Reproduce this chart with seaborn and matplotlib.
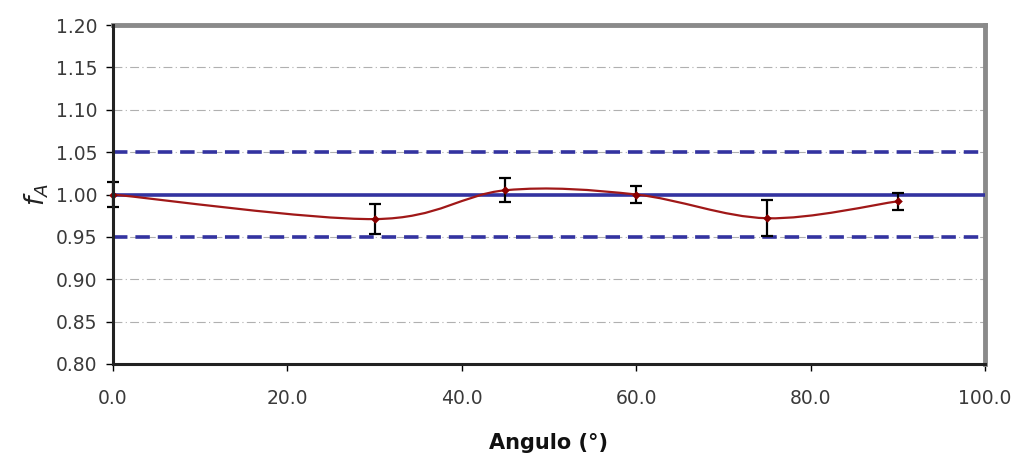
import numpy as np
import pandas as pd
import matplotlib
matplotlib.use("Agg")
import matplotlib.pyplot as plt
from matplotlib.path import Path
from matplotlib.patches import PathPatch
import seaborn as sns

# Measured factor vs. angle
angles = [0.0, 30.0, 45.0, 60.0, 75.0, 90.0]
f_a = [1.000, 0.971, 1.005, 1.000, 0.972, 0.992]
f_err = [0.015, 0.018, 0.014, 0.010, 0.021, 0.010]

# Reference level and tolerance band
ref_level = 1.00
tol_upper = 1.05
tol_lower = 0.95

x_ticks = [0, 20, 40, 60, 80, 100]
y_ticks = [0.80, 0.85, 0.90, 0.95, 1.00, 1.05, 1.10, 1.15, 1.20]

sns.set_style("white")
plt.rcParams["font.family"] = ["DejaVu Sans"]

fig = plt.figure(figsize=(10.14, 4.55), dpi=100)
ax = fig.add_axes([0.1114, 0.2, 0.86, 0.745])

ax.set_xlim(0, 100)
ax.set_ylim(0.80, 1.20)

# gridlines
for yv in y_ticks[1:-1]:
    ax.axhline(yv, color="#b0b0b0", lw=0.8, ls=(0, (8, 3, 1, 3)), zorder=1)

navy = "#3333a0"
ax.axhline(tol_upper, color=navy, lw=2.6, ls=(0, (4, 2.2)), zorder=2)
ax.axhline(tol_lower, color=navy, lw=2.6, ls=(0, (4, 2.2)), zorder=2)
ax.axhline(ref_level, color=navy, lw=2.6, zorder=3)

# smoothed curve through the points (Catmull-Rom as cubic Bezier segments)
df = pd.DataFrame({"angle": angles, "fa": f_a, "err": f_err})
pts = df[["angle", "fa"]].to_numpy()
verts = [tuple(pts[0])]
codes = [Path.MOVETO]
n = len(pts)
for i in range(n - 1):
    p0 = pts[i - 1] if i > 0 else pts[i]
    p1 = pts[i]
    p2 = pts[i + 1]
    p3 = pts[i + 2] if i + 2 < n else pts[i + 1]
    c1 = p1 + (p2 - p0) / 6.0
    c2 = p2 - (p3 - p1) / 6.0
    verts += [tuple(c1), tuple(c2), tuple(p2)]
    codes += [Path.CURVE4, Path.CURVE4, Path.CURVE4]
curve = PathPatch(Path(verts, codes), facecolor="none", edgecolor="#a01818",
                  lw=1.6, zorder=4, transform=ax.transData, clip_on=False)
ax.add_patch(curve)

ax.errorbar(df["angle"], df["fa"], yerr=df["err"], fmt="none", ecolor="black",
            elinewidth=1.6, capsize=4, capthick=1.6, zorder=5, clip_on=False)
sns.scatterplot(data=df, x="angle", y="fa", marker="D", s=16, color="#8b0000",
                edgecolor="#8b0000", ax=ax, zorder=6, clip_on=False, legend=False)

ax.set_xticks(x_ticks)
ax.set_xticklabels([f"{v:.1f}" for v in x_ticks])
ax.set_yticks(y_ticks)
ax.set_yticklabels([f"{v:.2f}" for v in y_ticks])
ax.tick_params(axis="both", direction="out", length=5, width=1, color="black",
               labelsize=13.5, labelcolor="#3a3a3a", bottom=True, left=True)
ax.tick_params(axis="x", pad=13)
ax.tick_params(axis="y", pad=6)

for side in ["left", "bottom"]:
    ax.spines[side].set_color("#222222")
    ax.spines[side].set_linewidth(2.2)
for side in ["top", "right"]:
    ax.spines[side].set_color("#8a8a8a")
    ax.spines[side].set_linewidth(3.5)
ax.spines["left"].set_zorder(7)

ax.set_xlabel("Angulo (°)", fontsize=15, fontweight="bold", labelpad=18,
              family=["DejaVu Sans"], color="#111111")
ax.set_ylabel("$f_A$", fontsize=19, labelpad=4, color="#222222")

fig.savefig("out.png", dpi=100, facecolor="white")
